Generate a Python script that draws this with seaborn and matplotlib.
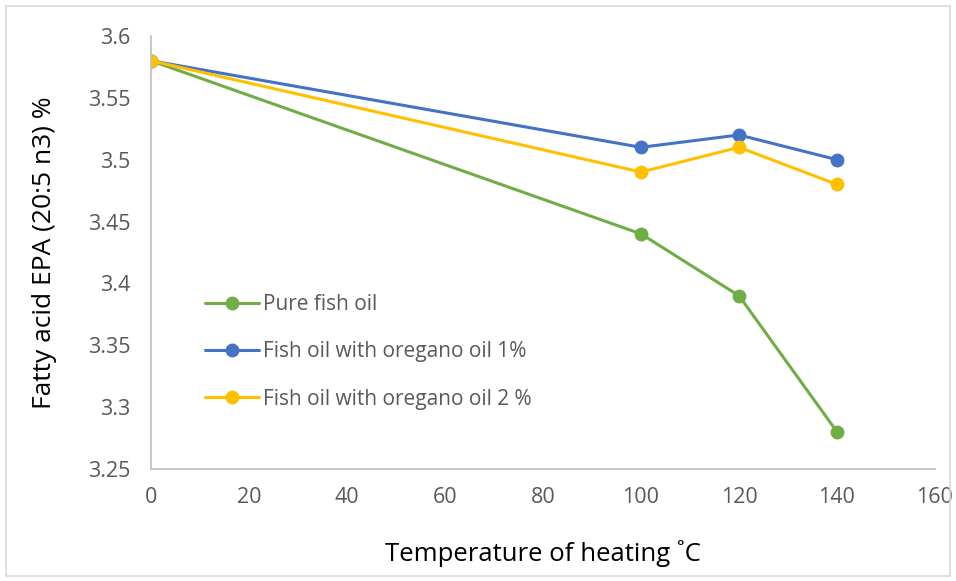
import matplotlib
matplotlib.use("Agg")
import matplotlib.pyplot as plt
import seaborn as sns
import pandas as pd
import numpy as np

temperature = [0, 100, 120, 140]
pure_fish_oil = [3.58, 3.44, 3.39, 3.28]
oregano_1 = [3.58, 3.51, 3.52, 3.50]
oregano_2 = [3.58, 3.49, 3.51, 3.48]
series_names = ["Pure fish oil", "Fish oil with oregano oil 1%", "Fish oil with oregano oil 2 %"]
colors = ["#70AD47", "#4472C4", "#FFC000"]

df = pd.DataFrame({
    "temp": temperature * 3,
    "value": pure_fish_oil + oregano_1 + oregano_2,
    "series": [series_names[0]] * 4 + [series_names[1]] * 4 + [series_names[2]] * 4,
})

sns.set_style("white")
plt.rcParams["font.family"] = ["Open Sans", "DejaVu Sans"]

fig = plt.figure(figsize=(9.56, 5.81), dpi=100)
ax = fig.add_axes([0.158, 0.193, 0.82, 0.745])

sns.lineplot(data=df, x="temp", y="value", hue="series", hue_order=series_names,
             palette=colors, marker="o", markersize=10, markeredgewidth=0,
             linewidth=2.2, ax=ax, sort=False)

ax.set_xlim(0, 160)
ax.set_ylim(3.25, 3.6)
ax.set_xticks(np.arange(0, 161, 20))
ax.set_yticks(np.arange(3.25, 3.601, 0.05))
ax.set_yticklabels(["3.25", "3.3", "3.35", "3.4", "3.45", "3.5", "3.55", "3.6"])
ax.tick_params(axis="y", length=0, labelsize=15.5, labelcolor="#595959", pad=15)
ax.tick_params(axis="x", length=0, labelsize=15.5, labelcolor="#595959", pad=13)
ax.set_xlabel("Temperature of heating ˚C", fontsize=18.5, color="black", labelpad=23)
ax.set_ylabel("Fatty acid EPA (20:5 n3) %", fontsize=19, color="black", labelpad=22)
for s in ["top", "right"]:
    ax.spines[s].set_visible(False)
for s in ["left", "bottom"]:
    ax.spines[s].set_color("#BFBFBF")
    ax.spines[s].set_linewidth(1.2)

leg = ax.legend(loc="center left", bbox_to_anchor=(0.045, 0.27), frameon=False,
                fontsize=15, labelspacing=1.25, handlelength=2.6, handletextpad=0.2)
for t in leg.get_texts():
    t.set_color("#595959")

fig.patches.append(plt.Rectangle((0.006, 0.008), 0.988, 0.982, transform=fig.transFigure,
                                 fill=False, edgecolor="#D9D9D9", linewidth=1.2))

fig.savefig("out.png", dpi=100)
